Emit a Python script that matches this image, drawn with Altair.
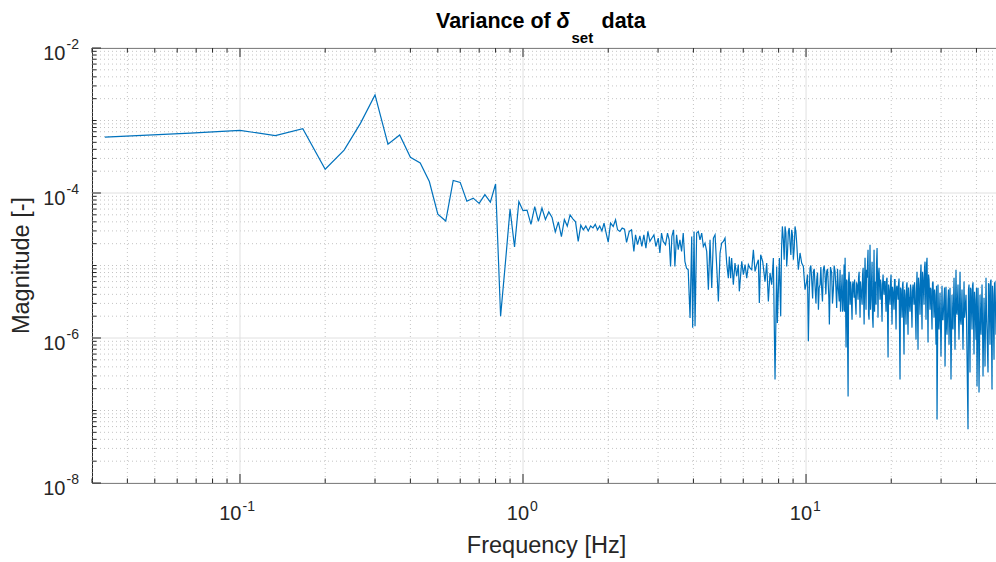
import altair as alt
import pandas as pd

# ---------------- data ----------------
freq_a = [0.0333, 0.0667, 0.1, 0.1333, 0.1667, 0.2, 0.2333, 0.2667, 0.3, 0.3333,
          0.3667, 0.4, 0.4333, 0.4667, 0.5, 0.5333, 0.5667, 0.6, 0.6333, 0.6667,
          0.7, 0.7333, 0.7667, 0.8, 0.8333, 0.8667, 0.9, 0.9333, 0.9667, 1.0,
          1.0333, 1.0667, 1.1, 1.1333, 1.1667, 1.2, 1.2333, 1.2667, 1.3, 1.3333,
          1.3667, 1.4, 1.4333, 1.4667, 1.5, 1.5333, 1.5667, 1.6, 1.6333, 1.6667,
          1.7, 1.7333, 1.7667, 1.8, 1.8333, 1.8667, 1.9, 1.9333, 1.9667, 2.0]
mag_a = [5.9e-4, 6.7e-4, 7.3e-4, 6.2e-4, 7.7e-4, 2.13e-4, 3.9e-4, 9.2e-4, 2.25e-3, 4.7e-4,
         6.3e-4, 3.1e-4, 2.6e-4, 1.44e-4, 5.1e-5, 4.1e-5, 1.49e-4, 1.4e-4, 7.7e-5, 8.5e-5,
         7.2e-5, 9.5e-5, 7.5e-5, 1.33e-4, 2.0e-6, 1.1e-5, 6.0e-5, 1.8e-5, 7.6e-5, 5.7e-5,
         5.8e-5, 3.7e-5, 6.5e-5, 4.05e-5, 6.2e-5, 4.3e-5, 5.5e-5, 4.6e-5, 2.9e-5, 4.0e-5,
         2.5e-5, 4.3e-5, 3.5e-5, 5.0e-5, 4.4e-5, 4.0e-5, 2.15e-5, 3.6e-5, 3.1e-5, 3.5e-5,
         3.0e-5, 3.5e-5, 3.3e-5, 3.7e-5, 3.1e-5, 3.5e-5, 3.0e-5, 3.85e-5, 2.8e-5, 2.1e-5]

freq_b = [2.038, 2.083, 2.123, 2.158, 2.199, 2.241, 2.284, 2.322, 2.373, 2.418,
          2.464, 2.498, 2.539, 2.588, 2.630, 2.673, 2.718, 2.762, 2.808, 2.854,
          2.901, 2.948, 3.005, 3.045, 3.086, 3.128, 3.188, 3.240, 3.284, 3.321,
          3.357, 3.404, 3.440, 3.488, 3.535, 3.584, 3.633, 3.682, 3.732, 3.782, 3.834]
mag_b = [3.85e-5, 3.46e-5, 4.27e-5, 3.11e-5, 2.95e-5, 3.28e-5, 3.18e-5, 2.08e-5, 2.95e-5, 3.11e-5,
         1.56e-5, 2.65e-5, 1.94e-5, 2.57e-5, 1.83e-5, 2.65e-5, 1.74e-5, 2.95e-5, 2.15e-5, 2.39e-5,
         2.65e-5, 1.83e-5, 2.39e-5, 1.49e-5, 2.8e-5, 2.15e-5, 1.94e-5, 2.8e-5, 2.26e-5, 9.7e-6,
         2.52e-5, 3.11e-5, 9.7e-6, 2.65e-5, 1.65e-5, 2.26e-5, 1.56e-5, 2.8e-5, 1.14e-5, 9.2e-6, 8.75e-6]

freq_c = [3.892, 3.945, 3.976, 4.021, 4.053, 4.107, 4.164, 4.220, 4.279, 4.337,
          4.396, 4.457, 4.518, 4.579, 4.643, 4.706, 4.770, 4.835, 4.901, 4.968,
          5.035, 5.104, 5.173, 5.244, 5.315, 5.358, 5.416, 5.460, 5.535, 5.610,
          5.687, 5.764, 5.811, 5.927, 6.007, 6.089, 6.172, 6.256, 6.341, 6.427,
          6.515, 6.603, 6.692, 6.784, 6.839, 6.914, 7.027, 7.163, 7.261, 7.360,
          7.460, 7.562, 7.665, 7.770, 7.876, 7.919, 8.049, 8.137, 8.248, 8.315,
          8.429, 8.544, 8.660, 8.779, 8.898, 9.020, 9.143, 9.268, 9.394, 9.523,
          9.653, 9.784, 9.918, 10.05, 10.19, 10.33, 10.47, 10.62, 10.76, 10.91,
          11.06, 11.21, 11.36, 11.51, 11.67, 11.83, 11.99, 12.09, 12.32, 12.49,
          12.66, 12.83, 13.01]
mag_c = [1.89e-6, 2.52e-5, 1.38e-6, 2.95e-5, 1.45e-6, 2.8e-5, 2.95e-5, 2.26e-5, 2.8e-5, 1.83e-5,
         2.04e-5, 1.56e-5, 4.65e-6, 2.26e-5, 4.9e-6, 2.39e-5, 2.65e-5, 9.7e-6, 3.2e-6, 1.49e-5,
         2.04e-5, 2.15e-5, 2.39e-5, 1.08e-5, 6.7e-6, 1.33e-5, 6.7e-6, 1.27e-5, 5.45e-6, 1.08e-5,
         7.1e-6, 1.03e-5, 4.4e-6, 1.14e-5, 7.5e-6, 1.03e-5, 6.7e-6, 1.03e-5, 9.2e-6, 8.75e-6,
         1.65e-5, 8.3e-6, 1.03e-5, 1.2e-5, 3.04e-6, 1.41e-5, 1.14e-5, 6.0e-6, 1.08e-5, 3.2e-6,
         7.9e-6, 5.45e-6, 1.27e-5, 2.67e-7, 9.7e-6, 1.61e-6, 1.27e-5, 1.99e-6, 3.46e-5, 2.26e-5,
         3.46e-5, 9.7e-6, 2.95e-5, 2.04e-5, 3.11e-5, 1.2e-5, 3.46e-5, 2.04e-5, 8.75e-6, 1.49e-5,
         1.08e-5, 9.7e-6, 4.65e-6, 6.0e-6, 9.0e-7, 9.2e-6, 6.4e-6, 8.3e-6, 5.2e-6, 6.4e-6,
         2.46e-6, 5.45e-6, 4.65e-6, 8.75e-6, 7.5e-6, 8.3e-6, 5.2e-6, 1.53e-6, 7.9e-6, 4.65e-6,
         8.3e-6, 2.6e-6, 4.65e-6]

# extra points in the dense 8-13 Hz stretch
freq_e = [8.19, 8.37, 8.49, 8.60, 8.72, 8.84, 8.96, 9.08, 9.21, 9.33,
          10.12, 10.26, 10.40, 10.55, 10.69, 10.84, 10.98, 11.13, 11.28, 11.43,
          11.59, 11.75, 11.91, 12.04, 12.20, 12.40, 12.57, 12.75, 12.92, 13.10]
mag_e = [1.6e-5, 1.2e-5, 2.8e-5, 1.5e-5, 3.3e-5, 1.4e-5, 2.6e-5, 1.7e-5, 2.9e-5, 1.3e-5,
         7.5e-6, 4.0e-6, 1.0e-5, 3.5e-6, 9.0e-6, 3.0e-6, 8.0e-6, 5.0e-6, 9.5e-6, 3.2e-6,
         1.0e-5, 4.0e-6, 9.0e-6, 3.5e-6, 9.5e-6, 3.0e-6, 1.0e-5, 5.0e-6, 9.0e-6, 3.2e-6]

freq_d = [13.19, 13.30, 13.41, 13.52, 13.63, 13.74, 13.85, 13.96, 14.08, 14.19,
          14.31, 14.43, 14.54, 14.66, 14.78, 14.90, 15.02, 15.15, 15.27, 15.40,
          15.52, 15.65, 15.78, 15.91, 16.04, 16.16, 16.29, 16.43, 16.56, 16.70,
          16.83, 16.97, 17.11, 17.25, 17.39, 17.53, 17.67, 17.82, 17.96, 18.11,
          18.26, 18.41, 18.56, 18.71, 18.86, 19.02, 19.17, 19.33, 19.49, 19.65,
          19.81, 19.97, 20.13, 20.30, 20.46, 20.63, 20.80, 20.97, 21.14, 21.31,
          21.48, 21.66, 21.84, 22.01, 22.19, 22.37, 22.56, 22.74, 22.93, 23.11,
          23.30, 23.49, 23.68, 23.88, 24.07, 24.27, 24.47, 24.67, 24.87, 25.07,
          25.28, 25.48, 25.69, 25.90, 26.11, 26.33, 26.54, 26.76, 26.98, 27.20,
          27.42, 27.64, 27.87, 28.10, 28.33, 28.56, 28.79, 29.03, 29.26, 29.50,
          29.74, 29.98, 30.23, 30.48, 30.73, 30.98, 31.23, 31.49, 31.74, 32.00,
          32.26, 32.52, 32.79, 33.06, 33.33, 33.60, 33.87, 34.15, 34.43, 34.71,
          35.00, 35.29, 35.57, 35.86, 36.16, 36.45, 36.75, 37.05, 37.35, 37.66,
          37.96, 38.27, 38.59, 38.90, 39.22, 39.54, 39.86, 40.19, 40.51, 40.85,
          41.18, 41.52, 41.86, 42.20, 42.54, 42.89, 43.24, 43.59, 43.95, 44.31,
          44.67, 45.04, 45.40, 45.78, 46.15, 46.52, 46.90]
mag_d = [8.75e-6, 3.38e-6, 7.5e-6, 2.46e-6, 1.03e-5, 1.28e-5, 7.4e-7, 6.0e-6, 1.56e-7, 8.2e-6,
         2.88e-6, 4.65e-6, 1.79e-6, 6.0e-6, 3.6e-6, 3.96e-6, 2.1e-6, 5.45e-6, 3.38e-6, 8.2e-6,
         1.91e-6, 4.65e-6, 2.88e-6, 9.3e-6, 1.53e-6, 1.28e-5, 2.46e-6, 6.8e-6, 1.65e-5, 1.79e-6,
         1.94e-5, 3.38e-6, 1.13e-5, 1.39e-6, 1.65e-5, 6.0e-6, 2.88e-6, 1.74e-5, 1.91e-6, 9.3e-6,
         3.38e-6, 5.45e-6, 1.68e-6, 7.5e-6, 3.96e-6, 6.0e-6, 2.31e-6, 6.8e-6, 5.4e-7, 4.65e-6,
         2.88e-6, 7.5e-6, 1.53e-6, 4.35e-6, 2.46e-6, 6.4e-6, 1.31e-6, 5.27e-6, 3.38e-6, 6.6e-6,
         2.67e-7, 4.65e-6, 1.91e-6, 6.0e-6, 5.9e-7, 3.96e-6, 1.53e-6, 5.85e-6, 1.11e-6, 3.6e-6,
         2.31e-6, 4.65e-6, 1.39e-6, 5.45e-6, 2.88e-6, 4.35e-6, 9.5e-7, 8.2e-6, 6.9e-7, 5.45e-6,
         2.1e-6, 1.03e-5, 1.31e-6, 6.8e-6, 2.88e-6, 1.13e-5, 1.79e-6, 1.28e-5, 8.65e-7, 6.4e-6,
         2.46e-6, 4.65e-6, 1.31e-6, 6.0e-6, 1.91e-6, 3.96e-6, 8.1e-7, 7.5e-8, 5.45e-6, 1.31e-6,
         4.2e-6, 5.55e-7, 5.27e-6, 1.79e-6, 3.6e-6, 4.04e-7, 5.1e-6, 1.11e-6, 3.38e-6, 8.1e-7,
         4.95e-6, 2.67e-7, 3.96e-6, 1.31e-6, 6.8e-6, 6.9e-7, 8.75e-6, 2.1e-6, 5.45e-6, 9.5e-7,
         8.2e-6, 1.53e-6, 4.65e-6, 6.9e-7, 6.0e-6, 2.31e-6, 3.96e-6, 5.55e-7, 5.5e-8, 5.45e-6,
         3.34e-7, 4.65e-6, 1.31e-6, 5.85e-6, 5.9e-7, 3.38e-6, 9.5e-7, 2.14e-7, 4.95e-6, 1.77e-7,
         3.96e-6, 1.11e-6, 5.45e-6, 2.94e-7, 3.6e-6, 4.04e-7, 6.8e-6, 1.31e-6, 3.34e-7, 5.45e-6,
         8.1e-7, 6.4e-6, 1.95e-7, 3.96e-6, 5.0e-7, 5.85e-6, 1.11e-6]

# in-between points of the dense band above 13 Hz
freq_d2 = [13.24, 13.46, 13.69, 13.91, 14.14, 14.37, 14.60, 14.84, 15.08, 15.33,
           15.58, 15.84, 16.11, 16.36, 16.63, 16.90, 17.18, 17.46, 17.74, 18.03,
           18.33, 18.64, 18.94, 19.25, 19.57, 19.89, 20.21, 20.54, 20.88, 21.23,
           21.57, 21.93, 22.28, 22.65, 23.02, 23.40, 23.78, 24.17, 24.57, 24.97,
           25.38, 25.80, 26.22, 26.65, 27.09, 27.53, 27.98, 28.45, 28.91, 29.38,
           29.86, 30.35, 30.86, 31.36, 31.87, 32.39, 32.92, 33.47, 34.01, 34.57,
           35.14, 35.72, 36.31, 36.90, 37.50, 38.12, 38.75, 39.38, 40.02, 40.68,
           41.35, 42.03, 42.71, 43.42, 44.13, 44.85, 45.59, 46.34]
mag_d2 = [2.31e-6, 2.31e-6, 2.31e-6, 6.4e-6, 6.4e-6, 6.0e-6, 5.45e-6, 6.4e-6, 5.85e-6, 6.8e-6,
          6.0e-6, 7.5e-6, 6.4e-6, 8.75e-6, 2.1e-6, 2.46e-6, 1.91e-6, 2.31e-6, 1.03e-5, 7.5e-6,
          6.4e-6, 5.45e-6, 6.0e-6, 6.4e-6, 5.45e-6, 5.85e-6, 5.1e-6, 6.4e-6, 4.95e-6, 5.7e-6,
          4.95e-6, 5.45e-6, 4.65e-6, 5.27e-6, 4.95e-6, 5.45e-6, 4.35e-6, 5.85e-6, 4.95e-6, 6.8e-6,
          7.5e-6, 8.2e-6, 9.3e-6, 1.03e-5, 7.5e-6, 4.95e-6, 5.7e-6, 4.65e-6, 5.27e-6, 1.91e-6,
          1.68e-6, 1.79e-6, 4.95e-6, 1.53e-6, 4.65e-6, 1.68e-6, 1.53e-6, 2.1e-6, 2.31e-6, 1.91e-6,
          1.79e-6, 1.53e-6, 1.91e-6, 1.79e-6, 4.65e-6, 4.95e-6, 5.27e-6, 4.35e-6, 4.95e-6, 1.68e-6,
          1.91e-6, 1.53e-6, 1.79e-6, 2.1e-6, 5.7e-6, 6.0e-6, 5.27e-6, 5.7e-6]

# tick positions and labels
x_major = [0.1, 1, 10]
x_major_exp = ["-1", "0", "1"]
x_minor = [0.03, 0.04, 0.05, 0.06, 0.07, 0.08, 0.09,
           0.2, 0.3, 0.4, 0.5, 0.6, 0.7, 0.8, 0.9,
           2, 3, 4, 5, 6, 7, 8, 9, 20, 30, 40]
y_major = [1e-8, 1e-6, 1e-4, 1e-2]
y_major_exp = ["-8", "-6", "-4", "-2"]
y_minor = [m * 10.0 ** n for n in range(-8, -2) for m in range(2, 10)] + [1e-7, 1e-5, 1e-3]

# ---------------- chart ----------------
freq = freq_a + freq_b + freq_c + freq_e + freq_d + freq_d2
mag = mag_a + mag_b + mag_c + mag_e + mag_d + mag_d2
df = pd.DataFrame({"f": freq, "m": mag}).sort_values("f")

W, H = 904, 435
FONT = "Liberation Sans"
AX = "#262626"
xs = alt.Scale(type="log", domain=[0.03, 46.9], nice=False)
ys = alt.Scale(type="log", domain=[1e-8, 1e-2], nice=False)


def vals(v):
    return pd.DataFrame({"v": v})


def X(field="v:Q"):
    return alt.X(field, scale=xs, axis=None)


def Y(field="v:Q"):
    return alt.Y(field, scale=ys, axis=None)


layers = []
# grids
layers.append(alt.Chart(vals(x_minor)).mark_rule(color="#c4c4c4", strokeDash=[1, 3], strokeWidth=1)
              .encode(x=X(), y=alt.value(0), y2=alt.value(H)))
layers.append(alt.Chart(vals(y_minor)).mark_rule(color="#c4c4c4", strokeDash=[1, 3], strokeWidth=1)
              .encode(y=Y(), x=alt.value(0), x2=alt.value(W)))
layers.append(alt.Chart(vals(x_major)).mark_rule(color="#e0e0e0", strokeWidth=1)
              .encode(x=X(), y=alt.value(0), y2=alt.value(H)))
layers.append(alt.Chart(vals(y_major)).mark_rule(color="#e0e0e0", strokeWidth=1)
              .encode(y=Y(), x=alt.value(0), x2=alt.value(W)))

# data line
layers.append(alt.Chart(df).mark_line(color="#0072BD", strokeWidth=1.2, clip=True)
              .encode(x=X("f:Q"), y=Y("m:Q")))

# inward ticks: bottom, top, left
for v, L in ((x_major, 9), (x_minor, 4.5)):
    layers.append(alt.Chart(vals(v)).mark_rule(color=AX, strokeWidth=1)
                  .encode(x=X(), y=alt.value(H), y2=alt.value(H - L)))
    layers.append(alt.Chart(vals(v)).mark_rule(color=AX, strokeWidth=1)
                  .encode(x=X(), y=alt.value(0), y2=alt.value(L)))
for v, L in ((y_major, 9), (y_minor, 4.5)):
    layers.append(alt.Chart(vals(v)).mark_rule(color=AX, strokeWidth=1)
                  .encode(y=Y(), x=alt.value(0), x2=alt.value(L)))

# x tick labels: 10^n
for v, e in zip(x_major, x_major_exp):
    d = 1.5 if e.startswith("-") else 6
    base = alt.Chart(vals([v]))
    layers.append(base.mark_text(text="10", align="right", baseline="alphabetic", font=FONT,
                                 fontSize=20, color=AX, dx=d)
                  .encode(x=X(), y=alt.value(H + 37)))
    layers.append(base.mark_text(text=e, align="left", baseline="alphabetic", font=FONT,
                                 fontSize=14, color=AX, dx=d + 1)
                  .encode(x=X(), y=alt.value(H + 28)))

# y tick labels: 10^n
ylab = pd.DataFrame({"v": y_major, "e": y_major_exp})
layers.append(alt.Chart(ylab).mark_text(text="10", align="right", baseline="alphabetic", font=FONT,
                                        fontSize=20, color=AX, dy=12)
              .encode(y=Y(), x=alt.value(-26.5)))
layers.append(alt.Chart(ylab).mark_text(align="right", baseline="alphabetic", font=FONT,
                                        fontSize=14, color=AX, dy=0.5)
              .encode(y=Y(), x=alt.value(-13), text="e:N"))

one = pd.DataFrame({"a": [0]})
# axis titles
layers.append(alt.Chart(one).mark_text(text="Frequency [Hz]", align="center", baseline="alphabetic",
                                       font=FONT, fontSize=23.5, color=AX)
              .encode(x=alt.value(454.5), y=alt.value(H + 70)))
layers.append(alt.Chart(one).mark_text(text="Magnitude [-]", align="center", baseline="alphabetic",
                                       font=FONT, fontSize=23.5, color=AX, angle=270)
              .encode(x=alt.value(-63.5), y=alt.value(H / 2)))

# title: Variance of δ_set data
layers.append(alt.Chart(one).mark_text(text="Variance of", align="left", baseline="alphabetic",
                                       font=FONT, fontSize=21.5, fontWeight="bold", color="black")
              .encode(x=alt.value(344), y=alt.value(-20)))
layers.append(alt.Chart(one).mark_text(text="δ", align="left", baseline="alphabetic",
                                       font=FONT, fontSize=21.5, fontWeight="bold", fontStyle="italic",
                                       color="black")
              .encode(x=alt.value(464.5), y=alt.value(-20)))
layers.append(alt.Chart(one).mark_text(text="set", align="left", baseline="alphabetic",
                                       font=FONT, fontSize=15, fontWeight="bold", color="black")
              .encode(x=alt.value(479.5), y=alt.value(-5)))
layers.append(alt.Chart(one).mark_text(text="data", align="left", baseline="alphabetic",
                                       font=FONT, fontSize=21.5, fontWeight="bold", color="black")
              .encode(x=alt.value(509.5), y=alt.value(-20)))

chart = (
    alt.layer(*layers)
    .properties(width=W, height=H,
                autosize=alt.AutoSizeParams(type="none"),
                padding={"left": 92, "top": 48, "right": 0, "bottom": 79},
                background="white")
    .configure_view(stroke=AX, strokeWidth=1)
)

chart.save("out.html", embed_options={"renderer": "svg", "actions": False})
